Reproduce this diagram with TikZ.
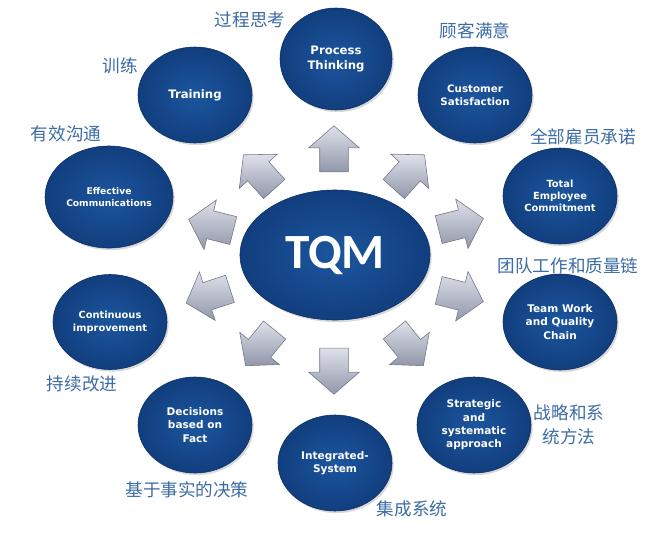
\documentclass[tikz,border=0pt]{standalone}
\usepackage{fontspec}
\usepackage{tikz}
\usetikzlibrary{shapes.geometric, shapes.arrows, shadows}
\newfontfamily\cjk{Noto Sans CJK SC}
\newfontfamily\goalfont{DejaVu Sans}
\newfontfamily\tqmfont{Carlito}
\definecolor{goalin}{RGB}{28,86,158}
\definecolor{goalout}{RGB}{17,62,126}
\definecolor{goaledge}{RGB}{12,48,100}
\definecolor{arrowlight}{RGB}{222,225,234}
\definecolor{arrowdark}{RGB}{145,151,170}
\definecolor{arrowedge}{RGB}{112,117,136}
\definecolor{lblblue}{RGB}{60,108,165}

\begin{document}
\begin{tikzpicture}[x=0.025cm, y=-0.025cm,
    goal/.style={ellipse, draw=goaledge, line width=0.4pt, inner color=goalin, outer color=goalout,
        minimum width=2.85cm, minimum height=2.4cm, inner sep=0pt, align=center, text=white,
        font=\goalfont\bfseries\fontsize{7.5}{9.5}\selectfont,
        drop shadow={shadow xshift=1.2pt, shadow yshift=-1.5pt, opacity=0.3}},
    push/.style={single arrow, draw=arrowedge, line width=0.4pt, top color=arrowlight, bottom color=arrowdark,
        minimum height=1.15cm, minimum width=0pt, inner xsep=0pt, inner ysep=0.35cm,
        single arrow head extend=0.28cm, single arrow tip angle=98},
    cn/.style={text=lblblue, font=\cjk\fontsize{12.5}{17}\selectfont}
]
\useasboundingbox (0,0) rectangle (668,533);

\node[goal, minimum width=4.75cm, minimum height=3.25cm, font=\tqmfont\bfseries\fontsize{35}{38}\selectfont] (tqm) at (335,255) {TQM};
\node[goal, minimum width=2.8cm, minimum height=2.55cm, font=\goalfont\bfseries\fontsize{8.3}{10}\selectfont] (proc) at (336,59) {Process\\Thinking};
\node[goal, font=\goalfont\bfseries\fontsize{8.3}{10}\selectfont] (train) at (195,95) {Training};
\node[goal, font=\goalfont\bfseries\fontsize{7.3}{9}\selectfont] (cust) at (475,95) {Customer\\Satisfaction};
\node[goal, minimum width=3.2cm, minimum height=2.55cm, font=\goalfont\bfseries\fontsize{6.5}{8.3}\selectfont] (comm) at (109,197) {Effective\\Communications};
\node[goal, font=\goalfont\bfseries\fontsize{7}{8.6}\selectfont] (empl) at (560,196) {Total\\Employee\\Commitment};
\node[goal, minimum height=2.375cm, font=\goalfont\bfseries\fontsize{7}{9.4}\selectfont] (cont) at (110,322) {Continuous\\improvement};
\node[goal] (team) at (560,322) {Team Work\\and Quality\\Chain};
\node[goal] (fact) at (195,425) {Decisions\\based on\\Fact};
\node[goal] (intg) at (335,463) {Integrated-\\System};
\node[goal] (strat) at (474,425) {Strategic\\and\\systematic\\approach};

\node[push, rotate=90] (up) at (334,155) {};
\node[push, rotate=132] (upleft) at (263,176.5) {};
\node[push, rotate=48] (upright) at (405,176.5) {};
\node[push, rotate=166] (leftup) at (217,226.5) {};
\node[push, rotate=198] (leftdown) at (214,294) {};
\node[push, rotate=14] (rightup) at (455,225.5) {};
\node[push, rotate=-14] (rightdown) at (455,294.5) {};
\node[push, rotate=-129] (downleft) at (264,343) {};
\node[push, rotate=-90] (down) at (334,365) {};
\node[push, rotate=-51] (downright) at (405,343) {};

\node[cn] (lproc) at (250,20) {过程思考};
\node[cn] (lcust) at (475,31) {顾客满意};
\node[cn] (ltrain) at (120,66) {训练};
\node[cn] (lcomm) at (66,134) {有效沟通};
\node[cn] (lempl) at (583,137) {全部雇员承诺};
\node[cn] (lteam) at (568,266) {团队工作和质量链};
\node[cn] (lcont) at (82,384) {持续改进};
\node[cn, align=center] (lstrat) at (569,425) {战略和系\\统方法};
\node[cn] (lfact) at (187,490) {基于事实的决策};
\node[cn] (lintg) at (412,509) {集成系统};
\end{tikzpicture}
\end{document}
